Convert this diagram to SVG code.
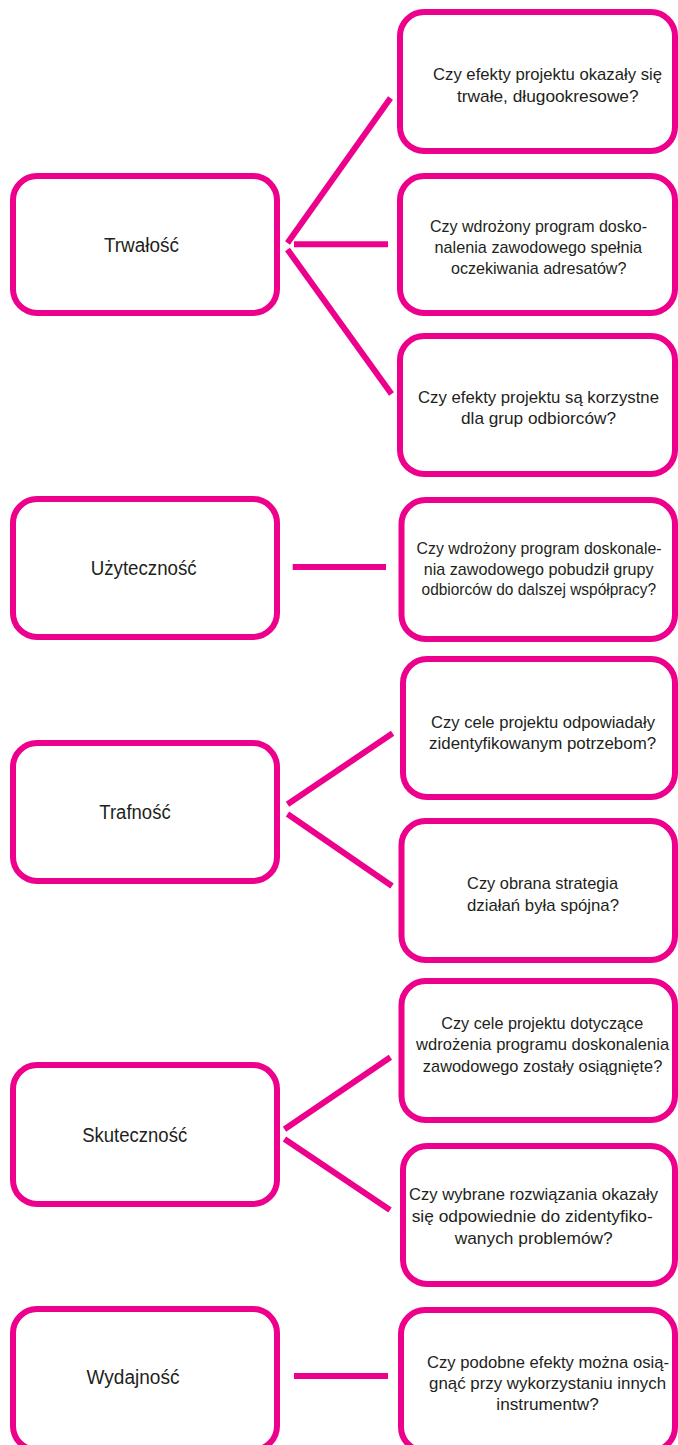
<svg xmlns="http://www.w3.org/2000/svg" width="678" height="1445" viewBox="0 0 678 1445">
<style>
.box{fill:#fff;stroke:#EC008C;stroke-width:6}
.con line{stroke:#EC008C;stroke-width:6;stroke-linecap:butt}
text{font-family:"Liberation Sans",Arial,sans-serif;fill:#231F20;text-anchor:middle}
.q{font-size:17px}
.l{font-size:19.5px}
</style>
<rect width="678" height="1445" fill="#fff"/>
<g id="connectors" class="con">
<line x1="287.5" y1="243" x2="390.5" y2="98"/>
<line x1="294" y1="244.3" x2="388" y2="244.3"/>
<line x1="287.5" y1="249.5" x2="391.5" y2="394"/>
<line x1="292.7" y1="567" x2="386" y2="567"/>
<line x1="287.5" y1="804.3" x2="392.6" y2="733.3"/>
<line x1="287.5" y1="814" x2="392" y2="886"/>
<line x1="284.5" y1="1129.3" x2="390.4" y2="1057.3"/>
<line x1="284.5" y1="1139" x2="390" y2="1210"/>
<line x1="294" y1="1376" x2="388" y2="1376"/>
</g>
<g id="n-trwalosc"><rect class="box" x="13" y="176" width="264" height="137" rx="24"/><text class="l" x="141.4" y="251.5" textLength="75" lengthAdjust="spacingAndGlyphs">Trwałość</text></g>
<g id="n-q1"><rect class="box" x="400" y="12" width="275" height="139" rx="24"/><text class="q" x="547.5" y="80" textLength="229" lengthAdjust="spacingAndGlyphs">Czy efekty projektu okazały się</text><text class="q" x="547.8" y="102" textLength="181.6" lengthAdjust="spacingAndGlyphs">trwałe, długookresowe?</text></g>
<g id="n-q2"><rect class="box" x="400" y="176" width="275" height="137" rx="24"/><text class="q" x="538.5" y="232" textLength="217" lengthAdjust="spacingAndGlyphs">Czy wdrożony program dosko-</text><text class="q" x="538.3" y="253.3" textLength="207.5" lengthAdjust="spacingAndGlyphs">nalenia zawodowego spełnia</text><text class="q" x="538.7" y="274.3" textLength="175.5" lengthAdjust="spacingAndGlyphs">oczekiwania adresatów?</text></g>
<g id="n-q3"><rect class="box" x="400" y="336" width="275" height="138" rx="24"/><text class="q" x="538.5" y="403.3" textLength="241" lengthAdjust="spacingAndGlyphs">Czy efekty projektu są korzystne</text><text class="q" x="538.5" y="424.3" textLength="155" lengthAdjust="spacingAndGlyphs">dla grup odbiorców?</text></g>
<g id="n-uzytecznosc"><rect class="box" x="13" y="499" width="264" height="138" rx="24"/><text class="l" x="143.7" y="575" textLength="106" lengthAdjust="spacingAndGlyphs">Użyteczność</text></g>
<g id="n-q4"><rect class="box" x="401.5" y="500" width="273.5" height="139" rx="24"/><text class="q" x="539" y="553.7" textLength="245" lengthAdjust="spacingAndGlyphs">Czy wdrożony program doskonale-</text><text class="q" x="538.7" y="574.5" textLength="230" lengthAdjust="spacingAndGlyphs">nia zawodowego pobudził grupy</text><text class="q" x="538.8" y="595.3" textLength="234.5" lengthAdjust="spacingAndGlyphs">odbiorców do dalszej współpracy?</text></g>
<g id="n-trafnosc"><rect class="box" x="13" y="743" width="264" height="138" rx="24"/><text class="l" x="135" y="818.7" textLength="71.3" lengthAdjust="spacingAndGlyphs">Trafność</text></g>
<g id="n-q5"><rect class="box" x="403" y="659" width="272" height="138" rx="24"/><text class="q" x="543" y="727.7" textLength="224" lengthAdjust="spacingAndGlyphs">Czy cele projektu odpowiadały</text><text class="q" x="542.6" y="748.7" textLength="227" lengthAdjust="spacingAndGlyphs">zidentyfikowanym potrzebom?</text></g>
<g id="n-q6"><rect class="box" x="401.5" y="821" width="273.5" height="139" rx="24"/><text class="q" x="542.6" y="889.3" textLength="151" lengthAdjust="spacingAndGlyphs">Czy obrana strategia</text><text class="q" x="543" y="910.5" textLength="152" lengthAdjust="spacingAndGlyphs">działań była spójna?</text></g>
<g id="n-skutecznosc"><rect class="box" x="13" y="1065" width="264" height="139" rx="24"/><text class="l" x="134.7" y="1142" textLength="105" lengthAdjust="spacingAndGlyphs">Skuteczność</text></g>
<g id="n-q7"><rect class="box" x="401.5" y="981" width="273.5" height="139" rx="24"/><text class="q" x="542.2" y="1028.7" textLength="202" lengthAdjust="spacingAndGlyphs">Czy cele projektu dotyczące</text><text class="q" x="542.6" y="1050.3" textLength="253" lengthAdjust="spacingAndGlyphs">wdrożenia programu doskonalenia</text><text class="q" x="542.6" y="1071.8" textLength="239.5" lengthAdjust="spacingAndGlyphs">zawodowego zostały osiągnięte?</text></g>
<g id="n-q8"><rect class="box" x="403" y="1146" width="272" height="138" rx="24"/><text class="q" x="533.5" y="1200.3" textLength="249" lengthAdjust="spacingAndGlyphs">Czy wybrane rozwiązania okazały</text><text class="q" x="532.2" y="1222.3" textLength="241" lengthAdjust="spacingAndGlyphs">się odpowiednie do zidentyfiko-</text><text class="q" x="533.7" y="1244" textLength="158" lengthAdjust="spacingAndGlyphs">wanych problemów?</text></g>
<g id="n-wydajnosc"><rect class="box" x="13" y="1309" width="264" height="141" rx="24"/><text class="l" x="133" y="1383.7" textLength="93" lengthAdjust="spacingAndGlyphs">Wydajność</text></g>
<g id="n-q9"><rect class="box" x="401" y="1310" width="274" height="141" rx="24"/><text class="q" x="548" y="1367.8" textLength="242" lengthAdjust="spacingAndGlyphs">Czy podobne efekty można osią-</text><text class="q" x="547.6" y="1388.8" textLength="237" lengthAdjust="spacingAndGlyphs">gnąć przy wykorzystaniu innych</text><text class="q" x="547.6" y="1409.5" textLength="102.5" lengthAdjust="spacingAndGlyphs">instrumentw?</text></g>
</svg>
